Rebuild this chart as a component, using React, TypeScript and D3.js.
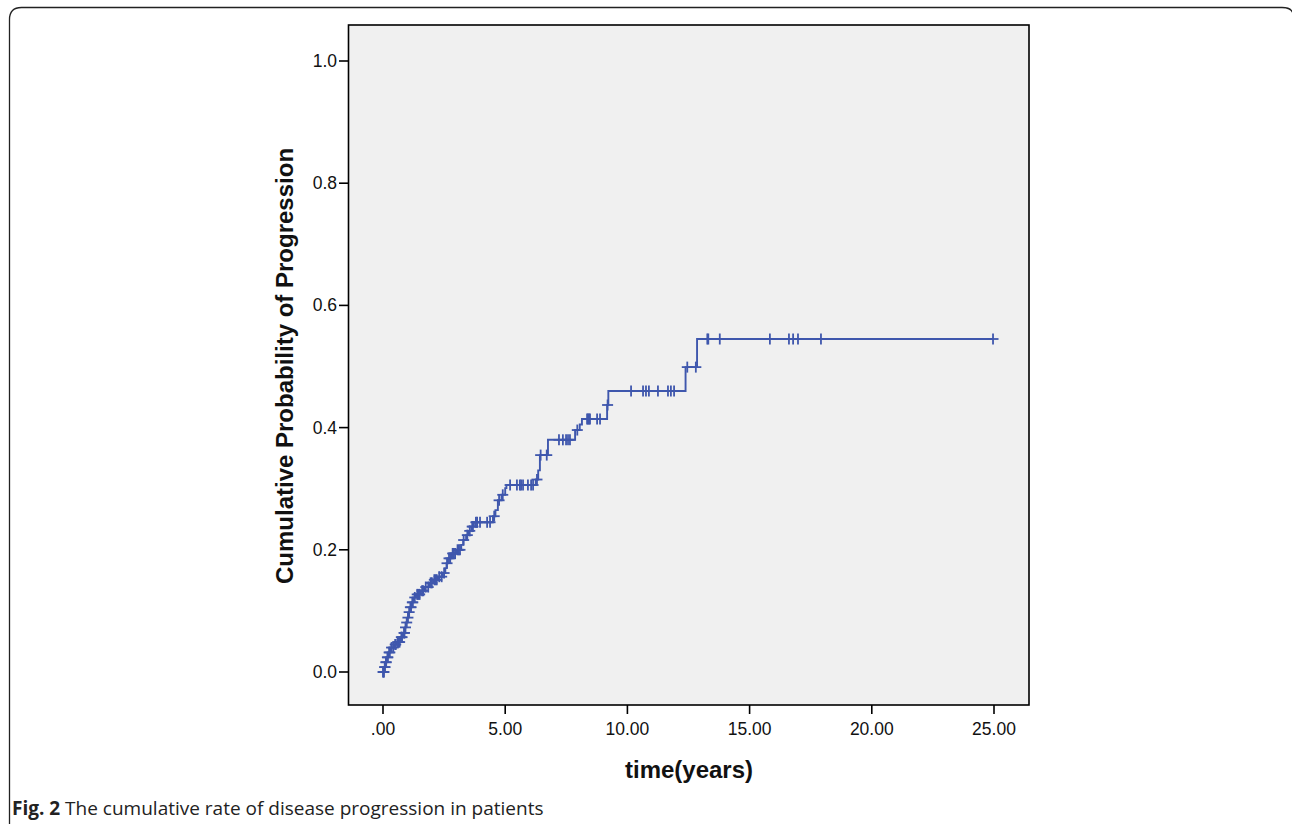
import React from 'react';
import * as d3 from 'd3';

// Kaplan-Meier style cumulative incidence
// step times (years) and cumulative probability after each step
const stepTimes = [
  0, 0.05, 0.1, 0.15, 0.22, 0.3, 0.45, 0.55, 0.7, 0.82, 0.9, 0.95, 1.0, 1.05, 1.1,
  1.18, 1.25, 1.35, 1.55, 1.7, 1.9, 2.05, 2.25, 2.45, 2.55, 2.6, 2.65, 2.8, 3.0,
  3.2, 3.28, 3.4, 3.5, 3.62, 3.72, 4.5, 4.6, 4.7, 4.85, 5.0, 5.05, 6.25, 6.35,
  6.42, 6.75, 7.86, 8.05, 8.14, 9.17, 9.22, 12.38, 12.85, 24.96,
];
const stepProbs = [
  0, 0.008, 0.016, 0.024, 0.032, 0.04, 0.045, 0.049, 0.057, 0.064, 0.073, 0.081, 0.089, 0.098, 0.106,
  0.114, 0.122, 0.127, 0.133, 0.139, 0.146, 0.151, 0.156, 0.162, 0.17, 0.178, 0.186, 0.194, 0.2,
  0.208, 0.216, 0.224, 0.231, 0.238, 0.245, 0.255, 0.265, 0.281, 0.29, 0.301, 0.306, 0.315, 0.33,
  0.355, 0.38, 0.396, 0.405, 0.414, 0.437, 0.46, 0.499, 0.545, 0.545,
];

// censored observations (years)
const censorTimes = [
  0.0, 0.02, 0.04, 0.07, 0.08, 0.12, 0.13, 0.18, 0.2, 0.25, 0.28, 0.35, 0.42, 0.5, 0.52, 0.6,
  0.65, 0.68, 0.75, 0.78, 0.86, 0.88, 0.92, 0.97, 1.02, 1.07, 1.12, 1.15, 1.2, 1.22, 1.3,
  1.4, 1.45, 1.5, 1.6, 1.65, 1.75, 1.85, 1.95, 2.0, 2.1, 2.15, 2.2, 2.3, 2.4, 2.5,
  2.62, 2.7, 2.75, 2.85, 2.9, 2.95, 3.05, 3.1, 3.15, 3.3, 3.45, 3.55, 3.65, 3.68, 3.8, 3.85,
  3.97, 4.26, 4.38, 4.55, 4.75, 4.9, 5.2, 5.48, 5.6, 5.65, 5.73, 5.93, 6.06, 6.14, 6.3,
  6.45, 6.7, 7.2, 7.36, 7.49, 7.57, 7.65, 7.95, 8.35, 8.39, 8.43, 8.47, 8.76, 8.88, 9.19,
  10.15, 10.64, 10.76, 10.88, 11.25, 11.66, 11.78, 11.91, 12.45, 12.8,
  13.27, 13.31, 13.78, 15.83, 16.61, 16.78, 16.98, 17.92, 24.96,
];

const xTicks = [0, 5, 10, 15, 20, 25];
const yTicks = [0, 0.2, 0.4, 0.6, 0.8, 1.0];

const W = 1292;
const H = 824;
const frame = { left: 348.5, top: 25, right: 1029, bottom: 705 };
const lineColor = '#3F57AD';

const App = () => {
  const x = d3.scaleLinear().domain([0, 25]).range([383, 994]);
  const y = d3.scaleLinear().domain([0, 1]).range([672, 61]);

  const pts: [number, number][] = stepTimes.map((t, i) => [t, stepProbs[i]]);
  const line = d3.line<[number, number]>()
    .x(d => x(d[0]))
    .y(d => y(d[1]))
    .curve(d3.curveStepAfter);

  const valueAt = (t: number) => {
    const i = d3.bisectRight(stepTimes, t) - 1;
    return stepProbs[Math.max(0, i)];
  };

  const fmtX = (v: number) => (v === 0 ? '.00' : v.toFixed(2));

  return (
    <svg width={W} height={H} style={{ position: 'absolute', left: 0, top: 0, display: 'block' }}>
      <rect x={0} y={0} width={W} height={H} fill="#fff" />
      {/* outer panel border */}
      <path
        d={`M9.5,${H + 5} L9.5,19.5 Q9.5,7.5 21.5,7.5 L1282,7.5 Q1292,7.5 1293,14`}
        fill="none"
        stroke="#222"
        strokeWidth={1.3}
      />

      {/* plot area */}
      <rect
        x={frame.left}
        y={frame.top}
        width={frame.right - frame.left}
        height={frame.bottom - frame.top}
        fill="#F0F0F0"
        stroke="#000"
        strokeWidth={1.6}
      />

      {/* axes */}
      <g fontFamily="'Liberation Sans', Arial, sans-serif" fontSize={17.5} fill="#111">
        {yTicks.map(v => (
          <g key={v}>
            <line x1={339} x2={frame.left} y1={y(v)} y2={y(v)} stroke="#000" strokeWidth={1.6} />
            <text x={337} y={y(v)} textAnchor="end" dominantBaseline="central">
              {v.toFixed(1)}
            </text>
          </g>
        ))}
        {xTicks.map(v => (
          <g key={v}>
            <line x1={x(v)} x2={x(v)} y1={frame.bottom} y2={714} stroke="#000" strokeWidth={1.6} />
            <text x={x(v)} y={735} textAnchor="middle">
              {fmtX(v)}
            </text>
          </g>
        ))}
      </g>

      {/* axis titles */}
      <text
        transform="translate(293,366) rotate(-90)"
        textAnchor="middle"
        fontFamily="'Liberation Sans', Arial, sans-serif"
        fontWeight="bold"
        fontSize={24}
        fill="#111"
      >
        Cumulative Probability of Progression
      </text>
      <text
        x={689}
        y={778}
        textAnchor="middle"
        fontFamily="'Liberation Sans', Arial, sans-serif"
        fontWeight="bold"
        fontSize={24}
        fill="#111"
      >
        time(years)
      </text>

      {/* curve */}
      <path d={line(pts) ?? ''} fill="none" stroke={lineColor} strokeWidth={1.9} />
      <g stroke={lineColor} strokeWidth={1.8}>
        {censorTimes.map((t, i) => {
          const cx = x(t);
          const cy = y(valueAt(t));
          return (
            <g key={i}>
              <line x1={cx - 5.5} x2={cx + 5.5} y1={cy} y2={cy} />
              <line x1={cx} x2={cx} y1={cy - 5.5} y2={cy + 5.5} />
            </g>
          );
        })}
      </g>

      {/* caption */}
      <text x={12} y={815} fontFamily="'Open Sans', sans-serif" fontSize={19} fill="#222">
        <tspan fontWeight="bold">Fig. 2</tspan> The cumulative rate of disease progression in patients
      </text>
    </svg>
  );
};

export default App;
